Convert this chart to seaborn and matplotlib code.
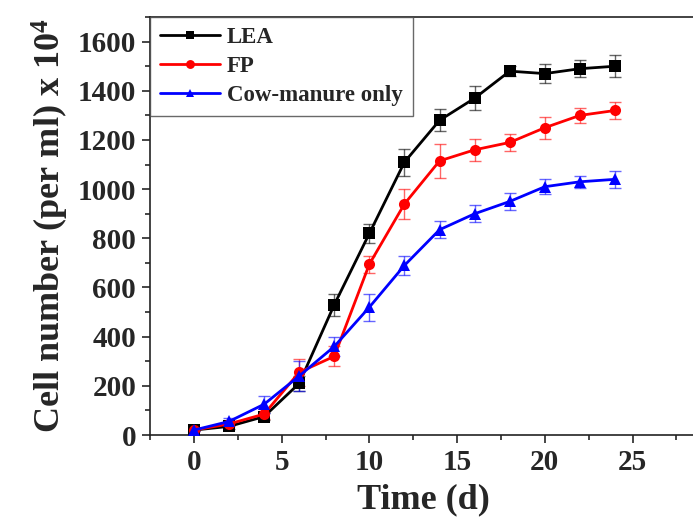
import numpy as np
import pandas as pd
import seaborn as sns
import matplotlib.pyplot as plt
from matplotlib.ticker import MultipleLocator

# data
time = [0, 2, 4, 6, 8, 10, 12, 14, 16, 18, 20, 22, 24]
lea = [20, 35, 75, 210, 530, 820, 1110, 1280, 1370, 1480, 1470, 1490, 1500]
lea_err = [5, 10, 15, 30, 45, 40, 55, 45, 50, 20, 40, 35, 45]
fp = [20, 45, 85, 255, 320, 695, 940, 1115, 1160, 1190, 1250, 1300, 1320]
fp_err = [5, 10, 20, 55, 40, 35, 60, 70, 45, 35, 45, 30, 35]
cow = [20, 55, 125, 240, 360, 520, 690, 835, 900, 950, 1010, 1030, 1040]
cow_err = [5, 15, 35, 60, 40, 55, 40, 35, 35, 35, 30, 25, 35]

groups = ["LEA", "FP", "Cow-manure only"]
colors = ["black", "#ff0000", "#0000ff"]
markers = ["s", "o", "^"]

df = pd.concat([
    pd.DataFrame({"time": time, "cells": v, "err": e, "group": g})
    for v, e, g in zip([lea, fp, cow], [lea_err, fp_err, cow_err], groups)
], ignore_index=True)

sns.set_style("ticks")
plt.rcParams["font.family"] = ["Liberation Serif", "DejaVu Serif"]
plt.rcParams["font.weight"] = "bold"
plt.rcParams["mathtext.fontset"] = "custom"
plt.rcParams["mathtext.rm"] = "Liberation Serif:bold"
plt.rcParams["mathtext.bf"] = "Liberation Serif:bold"
plt.rcParams["mathtext.default"] = "bf"

fig = plt.figure(figsize=(6.93, 5.17), dpi=100)
ax = fig.add_axes([0.2165, 0.1586, 0.79, 0.8084])

for g, c in zip(groups, colors):
    d = df[df.group == g]
    ax.errorbar(d.time, d.cells, yerr=d.err, fmt="none", ecolor=c,
                elinewidth=1, capsize=4, capthick=1, alpha=0.6, zorder=2)

sns.lineplot(data=df, x="time", y="cells", hue="group", style="group",
             palette=colors, markers=markers, dashes=False, markersize=8,
             markeredgewidth=0, linewidth=2, ax=ax, zorder=3)

ax.set_xlim(-2.5, 28.7)
ax.set_ylim(0, 1700)
ax.xaxis.set_major_locator(MultipleLocator(5))
ax.xaxis.set_minor_locator(MultipleLocator(2.5))
ax.yaxis.set_major_locator(MultipleLocator(200))
ax.yaxis.set_minor_locator(MultipleLocator(100))
ax.tick_params(which="major", direction="out", length=6, width=1.2, labelsize=21, pad=4)
ax.tick_params(which="minor", direction="out", length=3.5, width=1.2)
for s in ax.spines.values():
    s.set_linewidth(1.2)
    s.set_color("#222222")
for lab in ax.get_xticklabels() + ax.get_yticklabels():
    lab.set_fontweight("bold")

ax.set_xlabel("Time (d)", fontsize=26, fontweight="bold", labelpad=5)
ax.set_ylabel("Cell number (per ml) x 10$^{4}$", fontsize=26, fontweight="bold", labelpad=5)

handles, labels = ax.get_legend_handles_labels()
leg = ax.legend(handles, labels, loc="upper left", borderaxespad=0, frameon=True,
                fancybox=False, edgecolor="#444444", prop={"size": 16.5, "weight": "bold"},
                handlelength=2.6, handletextpad=0.3, labelspacing=0.33, borderpad=0.45,
                markerscale=0.8)
leg.get_frame().set_linewidth(1.0)

fig.savefig("out.png", dpi=100)
